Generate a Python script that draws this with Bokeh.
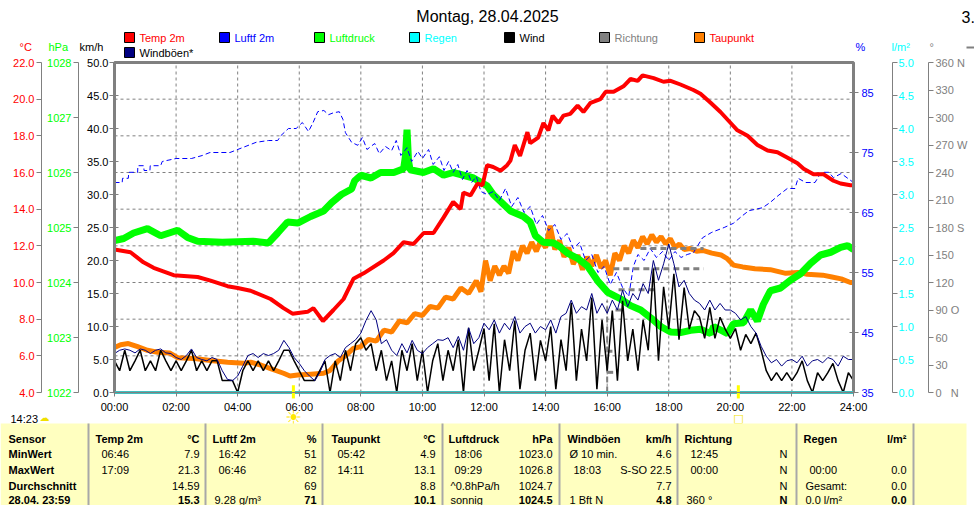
from bokeh.plotting import figure
from bokeh.models import Range1d, LinearAxis, FixedTicker, NumeralTickFormatter
from bokeh.embed import file_html
from bokeh.resources import INLINE
from bokeh.core.properties import value

FONT = "Liberation Sans"
GRAY = "#808080"

# ---------------- data ----------------
title_text = "Montag, 28.04.2025"
hour_ticks = [0, 2, 4, 6, 8, 10, 12, 14, 16, 18, 20, 22, 24]
hour_labels = ["00:00", "02:00", "04:00", "06:00", "08:00", "10:00", "12:00",
               "14:00", "16:00", "18:00", "20:00", "22:00", "24:00"]
kmh_ticks = [0, 5, 10, 15, 20, 25, 30, 35, 40, 45, 50]
hpa_ticks = [1022, 1023, 1024, 1025, 1026, 1027, 1028]
temp_ticks = [4, 6, 8, 10, 12, 14, 16, 18, 20, 22]
hum_ticks = [35, 45, 55, 65, 75, 85]
rain_ticks = [0, 0.5, 1, 1.5, 2, 2.5, 3, 3.5, 4, 4.5, 5]
dir_ticks = [0, 30, 60, 90, 120, 150, 180, 210, 240, 270, 300, 330, 360]
dir_tick_labels = {0: "0\u00a0\u00a0\u00a0N", 90: "90 O", 180: "180 S", 270: "270 W", 360: "360 N"}

temp_readings = [
    (0.0, 11.8), (0.52, 11.65), (0.94, 11.1), (1.27, 10.8), (1.92, 10.4), (2.7, 10.3),
    (3.12, 10.1), (3.67, 9.8), (4.0, 9.7), (4.42, 9.55), (5.07, 9.1), (5.49, 8.6),
    (5.78, 8.3), (6.27, 8.4), (6.46, 8.6), (6.77, 7.9), (7.11, 8.5), (7.44, 9.1),
    (7.76, 10.2), (8.09, 10.5), (8.74, 11.2), (9.06, 11.6), (9.39, 12.2), (9.71, 12.1),
    (10.04, 12.7), (10.36, 12.7), (10.69, 13.55), (11.0, 14.4), (11.24, 14.0), (11.33, 14.9),
    (11.56, 14.75), (11.79, 15.4), (11.95, 15.3), (12.1, 16.4), (12.3, 16.3), (12.54, 16.1),
    (12.75, 16.4), (12.86, 16.65), (13.0, 17.5), (13.17, 16.9), (13.41, 18.2), (13.5, 17.6),
    (13.76, 17.9), (13.93, 18.7), (14.09, 18.3), (14.23, 19.1), (14.42, 18.7), (14.58, 19.1),
    (14.8, 19.2), (15.04, 19.65), (15.23, 19.3), (15.46, 19.8), (15.78, 20.0), (15.95, 20.4),
    (16.21, 20.4), (16.53, 20.7), (16.76, 21.1), (16.99, 21.0), (17.15, 21.3), (17.51, 21.15),
    (17.83, 20.95), (18.06, 21.0), (18.38, 20.8), (18.8, 20.5), (19.03, 20.3), (19.36, 19.8),
    (19.68, 19.3), (20.01, 18.7), (20.23, 18.3), (20.56, 18.0), (20.88, 17.5), (21.21, 17.2),
    (21.53, 17.1), (21.86, 16.8), (22.18, 16.5), (22.38, 16.2), (22.7, 15.9), (23.03, 15.9),
    (23.35, 15.55), (23.58, 15.4), (23.9, 15.3), (24.0, 15.3)]

dew_readings = [
    (0.0, 6.45), (0.2, 6.6), (0.45, 6.67), (0.75, 6.5), (1.07, 6.3), (1.4, 6.2), (1.8, 6.15),
    (2.05, 5.9), (2.6, 5.85), (3.12, 5.75), (3.67, 5.65), (4.2, 5.6), (4.42, 5.65), (4.75, 5.5),
    (5.07, 5.3), (5.49, 5.05), (5.7, 4.9), (5.95, 4.95), (6.37, 5.0), (6.79, 5.05), (7.0, 5.2),
    (7.25, 5.7), (7.5, 6.0), (7.75, 6.4), (8.0, 6.5), (8.25, 6.9), (8.5, 6.8), (8.75, 7.4),
    (9.0, 7.3), (9.25, 7.9), (9.5, 7.8), (9.75, 8.3), (10.0, 8.2), (10.25, 8.7), (10.5, 8.6),
    (10.75, 9.2), (11.0, 9.1), (11.25, 9.7), (11.5, 9.4), (11.75, 10.1), (11.9, 9.5),
    (12.05, 11.2), (12.2, 10.1), (12.35, 10.9), (12.5, 10.4), (12.65, 10.9), (12.8, 10.5),
    (12.95, 11.7), (13.1, 11.2), (13.25, 12.0), (13.4, 11.6), (13.55, 12.2), (13.7, 11.7),
    (13.85, 12.3), (14.0, 11.9), (14.15, 13.1), (14.3, 11.8), (14.45, 12.3), (14.6, 11.4),
    (14.75, 11.9), (14.9, 11.0), (15.05, 11.5), (15.2, 10.7), (15.35, 11.4), (15.5, 10.9),
    (15.65, 11.5), (15.8, 10.8), (15.95, 11.2), (16.1, 10.4), (16.25, 11.6), (16.4, 11.2),
    (16.55, 12.0), (16.7, 11.6), (16.85, 12.3), (17.0, 11.9), (17.15, 12.5), (17.3, 12.1),
    (17.45, 12.6), (17.6, 12.2), (17.75, 12.5), (17.9, 12.1), (18.05, 12.4), (18.2, 11.9),
    (18.35, 12.1), (18.5, 11.8), (18.7, 11.85), (18.9, 11.7), (19.1, 11.75), (19.4, 11.6),
    (19.7, 11.5), (19.9, 11.3), (20.1, 10.95), (20.4, 10.85), (20.8, 10.75), (21.3, 10.7),
    (21.8, 10.5), (22.2, 10.55), (22.5, 10.45), (23.0, 10.4), (23.3, 10.3), (23.6, 10.2),
    (23.9, 10.0), (24.0, 10.0)]

press_readings = [
    (0.0, 1024.76), (0.3, 1024.8), (0.62, 1024.9), (1.07, 1024.98), (1.5, 1024.85),
    (2.05, 1024.95), (2.37, 1024.82), (2.7, 1024.75), (3.5, 1024.73), (4.5, 1024.75),
    (5.0, 1024.72), (5.3, 1024.9), (5.62, 1025.1), (5.95, 1025.08), (6.37, 1025.2),
    (6.79, 1025.3), (7.05, 1025.45), (7.37, 1025.6), (7.7, 1025.7), (7.8, 1025.85),
    (8.0, 1025.95), (8.33, 1025.9), (8.64, 1026.0), (9.07, 1026.0), (9.39, 1026.07),
    (9.45, 1026.3), (9.5, 1026.78), (9.55, 1026.2), (9.6, 1026.05), (10.03, 1026.0),
    (10.36, 1026.07), (10.69, 1025.95), (11.0, 1026.0), (11.33, 1025.95), (11.66, 1025.9),
    (12.1, 1025.76), (12.3, 1025.6), (12.86, 1025.3), (13.28, 1025.2), (13.5, 1025.1),
    (13.67, 1024.85), (13.93, 1024.73), (14.26, 1024.72), (14.49, 1024.64), (14.72, 1024.53),
    (15.04, 1024.44), (15.36, 1024.3), (15.69, 1024.03), (16.02, 1023.82), (16.44, 1023.7),
    (16.76, 1023.58), (17.09, 1023.5), (17.41, 1023.36), (17.74, 1023.2), (18.06, 1023.1),
    (18.38, 1023.09), (18.71, 1023.13), (19.03, 1023.15), (19.36, 1023.07), (19.46, 1023.2),
    (19.91, 1023.07), (20.1, 1023.25), (20.43, 1023.27), (20.66, 1023.5), (20.88, 1023.3),
    (21.07, 1023.6), (21.3, 1023.85), (21.63, 1023.9), (21.95, 1024.04), (22.28, 1024.16),
    (22.61, 1024.35), (22.93, 1024.5), (23.26, 1024.55), (23.58, 1024.64), (23.81, 1024.67),
    (24.0, 1024.6)]

hum_readings = [
    (0.0, 70.0), (0.25, 70.0), (0.26, 70.7), (0.45, 70.7), (0.46, 71.7), (0.75, 71.7),
    (0.76, 72.8), (0.95, 72.8), (0.96, 72.0), (1.15, 72.0), (1.16, 72.8), (1.5, 72.8),
    (1.55, 73.5), (2.0, 74.0), (2.5, 74.0), (2.85, 74.5), (3.1, 75.0), (3.75, 75.0),
    (4.15, 75.8), (4.6, 76.7), (5.0, 77.0), (5.3, 77.0), (5.4, 77.8), (5.65, 79.0),
    (5.9, 79.0), (6.1, 80.0), (6.3, 78.5), (6.45, 80.0), (6.6, 81.8), (6.8, 82.0),
    (6.95, 81.3), (7.1, 81.6), (7.3, 81.8), (7.42, 80.5), (7.5, 78.3), (7.7, 76.7),
    (7.9, 76.2), (8.05, 77.5), (8.2, 75.5), (8.45, 76.5), (8.6, 74.8), (8.8, 76.0),
    (9.0, 75.3), (9.15, 77.0), (9.3, 74.5), (9.5, 75.8), (9.65, 73.5), (9.85, 75.2),
    (10.0, 74.0), (10.2, 75.5), (10.35, 73.0), (10.55, 74.3), (10.7, 72.0), (10.85, 73.5),
    (11.0, 71.7), (11.15, 73.0), (11.3, 70.5), (11.45, 72.0), (11.6, 70.0), (11.75, 71.0),
    (11.9, 68.5), (12.1, 68.0), (12.3, 68.5), (12.5, 67.0), (12.7, 69.0), (12.9, 66.0),
    (13.1, 67.5), (13.3, 65.0), (13.5, 66.0), (13.7, 63.0), (13.9, 64.5), (14.1, 62.0),
    (14.3, 63.0), (14.5, 60.5), (14.7, 61.5), (14.9, 59.0), (15.1, 60.0), (15.3, 57.0),
    (15.5, 58.0), (15.7, 55.0), (15.9, 56.0), (16.1, 53.0), (16.3, 55.0), (16.5, 52.5),
    (16.7, 51.0), (16.85, 56.0), (17.0, 58.0), (17.2, 57.0), (17.4, 59.0), (17.6, 57.5),
    (17.8, 58.5), (18.0, 57.0), (18.2, 58.5), (18.4, 57.5), (18.6, 58.0), (18.8, 58.3),
    (19.1, 60.8), (19.4, 61.7), (19.8, 62.5), (20.1, 63.2), (20.4, 64.5), (20.6, 65.3),
    (21.05, 65.8), (21.3, 66.7), (21.55, 67.8), (21.85, 69.0), (22.1, 69.0), (22.2, 70.7),
    (22.45, 70.0), (22.75, 70.0), (22.95, 71.7), (23.2, 71.7), (23.35, 70.8), (23.6, 71.5),
    (24.0, 70.0)]

# wind and gusts, one value every 10 minutes (rows = hours)
wind_kmh = [
    4.8, 3.3, 6.4, 3.3, 4.8, 6.4,
    3.3, 4.8, 3.3, 6.4, 4.8, 3.3,
    4.8, 3.3, 4.8, 6.4, 3.3, 4.8,
    3.3, 4.8, 4.8, 1.8, 1.8, 1.8,
    0.0, 3.3, 4.8, 3.3, 4.8, 3.3,
    4.8, 3.3, 4.8, 6.4, 6.4, 4.8,
    3.3, 1.8, 1.8, 1.8, 3.3, 4.8,
    0.0, 4.8, 1.8, 6.4, 3.3, 7.4,
    8.3, 6.4, 7.4, 3.3, 6.4, 1.8,
    4.8, 0.0, 6.4, 3.3, 7.4, 1.8,
    6.4, 0.0, 4.8, 7.4, 1.8, 6.4,
    3.3, 8.0, 0.0, 9.8, 3.3, 6.4,
    9.7, 1.8, 10.4, 0.0, 8.0, 3.3,
    10.9, 0.5, 6.4, 9.0, 1.8, 7.9,
    4.8, 10.0, 0.5, 8.0, 3.3, 13.6,
    1.8, 9.6, 4.8, 14.4, 0.5, 11.0,
    3.3, 12.4, 1.8, 13.9, 4.8, 9.6,
    3.3, 11.0, 6.4, 18.8, 4.8, 16.0,
    9.6, 18.0, 8.0, 15.9, 9.6, 12.4,
    11.4, 8.2, 12.9, 8.2, 11.4, 9.6,
    8.2, 9.7, 6.4, 8.8, 7.4, 9.0,
    6.4, 3.3, 1.8, 3.0, 1.8, 3.0,
    1.8, 3.0, 4.8, 1.8, 0.0, 3.0,
    1.8, 3.0, 4.4, 1.8, 0.0, 3.0,
    1.8]
gust_kmh = [
    5.9, 6.4, 6.6, 6.4, 6.0, 6.6,
    6.4, 5.9, 6.4, 6.6, 6.0, 5.9,
    5.3, 5.0, 5.6, 6.6, 5.3, 5.0,
    4.8, 5.3, 5.0, 3.3, 2.0, 1.8,
    2.5, 4.0, 5.6, 5.9, 5.3, 5.9,
    5.6, 5.9, 6.4, 7.9, 6.8, 5.3,
    4.4, 3.3, 2.5, 1.8, 3.0, 5.0,
    5.6, 5.9, 5.3, 6.8, 7.4, 8.0,
    9.0, 10.9, 12.4, 11.0, 7.4, 8.0,
    6.4, 5.6, 7.4, 6.0, 7.9, 6.4,
    5.9, 6.8, 7.4, 8.0, 7.9, 8.3,
    6.8, 8.5, 6.4, 9.8, 7.4, 8.3,
    10.5, 9.5, 11.0, 9.0, 10.5, 9.5,
    11.5, 9.0, 10.0, 10.5, 9.0, 10.0,
    9.5, 11.0, 9.0, 11.5, 12.0, 14.0,
    12.0, 13.0, 12.5, 15.0, 12.0, 13.5,
    12.0, 14.0, 12.5, 15.5, 13.0, 15.0,
    14.0, 16.5, 15.0, 20.0, 17.0, 19.5,
    22.5, 19.5, 16.0, 17.0, 15.0, 14.0,
    13.5, 12.5, 14.0, 12.5, 13.5, 12.5,
    12.5, 12.0, 11.0, 11.5, 10.0, 9.0,
    7.0, 5.5, 4.5, 5.0, 4.0, 4.8,
    5.0, 4.5, 5.5, 4.0, 4.8, 5.0,
    4.5, 5.3, 5.0, 4.0, 5.5, 5.0,
    5.0]
wind_hours = [i / 6 for i in range(len(wind_kmh))]

rain_hours = [0, 24]
rain_lm2 = [0.0, 0.0]

dir_from_h = [16.00, 16.04, 16.27, 16.37, 16.20, 17.08]
dir_to_h = [16.20, 16.17, 16.53, 17.57, 19.13, 19.13]
dir_deg = [22, 45, 90, 112, 135, 157]
dir_jump_h = [16.0]
dir_jump_lo = [0]
dir_jump_hi = [100]

sun_event_h = [5.81, 20.26]
clock_text = "14:23"

legend_labels = ["Temp 2m", "Luftf 2m", "Luftdruck", "Regen", "Wind", "Richtung", "Taupunkt", "Windböen*"]
legend_box_colors = ["#FF0000", "#0000FF", "#00FF00", "#00FFFF", "#000000", "#808080", "#FF8000", "#000080"]
legend_text_colors = ["#FF0000", "#0000FF", "#00FF00", "#00FFFF", "#000000", "#808080", "#FF0000", "#000000"]

unit_texts = ["°C", "hPa", "km/h", "%", "l/m²", "°"]
unit_colors = ["#FF0000", "#00FF00", "#000000", "#0000FF", "#00FFFF", "#808080"]

row_names = ["Sensor", "MinWert", "MaxWert", "Durchschnitt", "28.04. 23:59"]
col_titles = ["Temp 2m", "Luftf 2m", "Taupunkt", "Luftdruck", "Windböen", "Richtung", "Regen"]
col_units = ["°C", "%", "°C", "hPa", "km/h", "", "l/m²"]
col_left = [["06:46", "17:09", "", ""],
            ["16:42", "06:46", "", "9.28 g/m³"],
            ["05:42", "14:11", "", ""],
            ["18:06", "09:29", "^0.8hPa/h", "sonnig"],
            ["Ø 10 min.", "18:03", "", "1 Bft N"],
            ["12:45", "00:00", "", "360 °"],
            ["", "00:00", "Gesamt:", "0.0 l/m²"]]
col_right = [["7.9", "21.3", "14.59", "15.3"],
             ["51", "82", "69", "71"],
             ["4.9", "13.1", "8.8", "10.1"],
             ["1023.0", "1026.8", "1024.7", "1024.5"],
             ["4.6", "S-SO 22.5", "7.7", "4.8"],
             ["N", "N", "N", "N"],
             ["", "0.0", "0.0", "0.0"]]

temp_h, temp_c = zip(*temp_readings)
dew_h, dew_c = zip(*dew_readings)
press_h, press_hpa = zip(*press_readings)
hum_h, hum_pct = zip(*hum_readings)

# ---------------- page geometry ----------------
W, H = 974, 505
PL, PR, PT, PB = 114, 853, 62, 392      # plot box in page pixels


def x_span(lo, hi):
    k = (PR - PL) / (hi - lo)
    return Range1d(lo - PL / k, hi + (W - PR) / k)


def y_span(lo, hi):
    k = (PB - PT) / (hi - lo)
    return Range1d(lo - (H - PB) / k, hi + PT / k)


def x_at(px):   # page pixel -> hour
    return (px - PL) * 24 / (PR - PL)


p = figure(width=W, height=H, x_range=x_span(0, 24), y_range=y_span(0, 50),
           x_axis_type=None, y_axis_type=None, output_backend="svg", toolbar_location=None,
           min_border=0, min_border_left=0, min_border_right=0, min_border_top=0, min_border_bottom=0,
           outline_line_color=None)
p.extra_y_ranges = {"temp": y_span(4, 22), "hpa": y_span(1022, 1028), "hum": y_span(35, 90),
                    "rain": y_span(0, 5), "dir": y_span(0, 360), "py": Range1d(H, 0)}
p.extra_x_ranges = {"px": Range1d(0, W)}


def add_axis(side, rng, loc_px, ticks, color, bounds, fmt=None, overrides=None, standoff=2, tick_in=0,
             tick_out=5):
    if side == "below":
        ax = LinearAxis(fixed_location=0)
    else:
        ax = LinearAxis(y_range_name=rng, fixed_location=x_at(loc_px))
    ax.bounds = bounds
    ax.ticker = FixedTicker(ticks=ticks)
    if fmt:
        ax.formatter = NumeralTickFormatter(format=fmt)
    if overrides:
        ax.major_label_overrides = overrides
    ax.major_label_text_color = color
    ax.major_label_text_font = FONT
    ax.major_label_text_font_size = "11px"
    ax.major_label_standoff = standoff
    ax.major_tick_out = tick_out
    ax.major_tick_in = tick_in
    ax.minor_tick_line_color = None
    ax.major_tick_line_color = GRAY
    ax.axis_line_color = GRAY
    p.add_layout(ax, side)
    return ax


# ---------------- grid, series, frame ----------------
inner_hours = hour_ticks[1:-1]
p.segment(x0=inner_hours, y0=[0] * len(inner_hours), x1=inner_hours, y1=[50] * len(inner_hours),
          line_color=GRAY, line_dash="3 3", line_width=1)
inner_temps = temp_ticks[1:-1]
p.segment(x0=[0] * len(inner_temps), y0=inner_temps, x1=[24] * len(inner_temps), y1=inner_temps,
          y_range_name="temp", line_color=GRAY, line_dash="3 3", line_width=1)

p.line(list(dew_h), list(dew_c), y_range_name="temp", line_color="#FF8000", line_width=5)
p.line(list(press_h), list(press_hpa), y_range_name="hpa", line_color="#00FF00", line_width=7)
p.line(list(hum_h), list(hum_pct), y_range_name="hum", line_color="#0000FF", line_width=1, line_dash="5 3")
p.line(list(temp_h), list(temp_c), y_range_name="temp", line_color="#FF0000", line_width=4)
p.segment(x0=dir_from_h, y0=dir_deg, x1=dir_to_h, y1=dir_deg, y_range_name="dir",
          line_color=GRAY, line_width=3, line_dash="6 4")
p.segment(x0=dir_jump_h, y0=dir_jump_lo, x1=dir_jump_h, y1=dir_jump_hi, y_range_name="dir",
          line_color=GRAY, line_width=2, line_dash="6 4")
p.line(wind_hours, wind_kmh, line_color="black", line_width=1.5)
p.line(wind_hours, gust_kmh, line_color="#000080", line_width=1)
p.quad(left=[0], right=[24], bottom=[0], top=[50], fill_color=None, line_color=GRAY, line_width=3)
p.line(rain_hours, rain_lm2, y_range_name="rain", line_color="#00FFFF", line_width=2)
p.segment(x0=sun_event_h, y0=[-0.9, -0.9], x1=sun_event_h, y1=[1.1, 1.1], line_color="#FFFF00", line_width=3)

# ---------------- axes ----------------
add_axis("below", None, None, hour_ticks, "black", (0, 24),
         overrides={h: s for h, s in zip(hour_ticks, hour_labels)}, standoff=4, tick_out=4)
add_axis("left", "default", PL, kmh_ticks, "black", (0, 50), fmt="0.0", standoff=1, tick_in=4)
add_axis("left", "hpa", 78, hpa_ticks, "#00FF00", (1022, 1028), standoff=2)
add_axis("left", "temp", 41, temp_ticks, "#FF0000", (4, 22), fmt="0.0", standoff=2)
add_axis("right", "hum", PR, hum_ticks, "#0000FF", (35, 90), standoff=3, tick_in=4)
add_axis("right", "rain", 892, rain_ticks, "#00FFFF", (0, 5), fmt="0.0", standoff=1)
add_axis("right", "dir", 928, dir_ticks, GRAY, (0, 360), overrides=dir_tick_labels, standoff=2)


# ---------------- header, markers, table (page-pixel layout) ----------------
def texts(xs, ys, ts, color="black", size="11px", align="left", style="normal", font=FONT, xr="px"):
    p.text(x=xs, y=ys, text=ts, x_range_name=xr, y_range_name="py", text_color=color,
           text_font=value(font), text_font_size=size, text_align=align, text_baseline="middle",
           text_font_style=style)


texts([487], [16], [title_text], size="16px", align="center")
texts([961], [16], ["3."], size="16px")
lx = [124 + 95 * (i % 7) for i in range(len(legend_labels))]
ly = [37 + 15 * (i // 7) for i in range(len(legend_labels))]
p.rect(x=[v + 5 for v in lx], y=ly, width=10, height=10, x_range_name="px", y_range_name="py",
       fill_color=legend_box_colors, line_color="black", line_width=1)
texts([v + 15 for v in lx], ly, legend_labels, color=legend_text_colors)
texts([19, 48, 79, 855, 891, 929], [46] * 6, unit_texts, color=unit_colors)
p.segment(x0=[966], y0=[47], x1=[974], y1=[47], x_range_name="px", y_range_name="py",
          line_color=GRAY, line_width=2)

texts([10], [418], [clock_text])
texts([44], [417], ["☁"], color="#F0E000", size="10px", align="center", font="DejaVu Sans")
texts([sun_event_h[0]], [416], ["☀"], color="#FFE800", size="19px", align="center",
      font="DejaVu Sans", xr="default")
texts([sun_event_h[1]], [418], ["□"], color="#F0E000", size="11px", align="center",
      font="DejaVu Sans", xr="default")

# table
p.quad(left=[0], right=[966], top=[423], bottom=[H], x_range_name="px", y_range_name="py",
       fill_color="#FFFFC0", line_color=None)
sep_x = [88, 205, 322, 442, 559, 677, 796, 913]
p.segment(x0=sep_x, y0=[423] * 8, x1=sep_x, y1=[H] * 8, x_range_name="px", y_range_name="py",
          line_color="#A8A8A8", line_width=2)
row_y = [438, 453.5, 469.5, 485.5, 499]
hdr_x = [95, 212, 331, 448, 567, 684, 803]
right_x = [199, 316, 435, 552, 671, 787, 906]

groups = {}


def put(x, y, t, align, style):
    if t:
        g = groups.setdefault((align, style), ([], [], []))
        g[0].append(x)
        g[1].append(y)
        g[2].append(t)


for r, name in enumerate(row_names):
    put(8, row_y[r], name, "left", "bold")
for c in range(len(col_titles)):
    put(hdr_x[c], row_y[0], col_titles[c], "left", "bold")
    put(right_x[c], row_y[0], col_units[c], "right", "bold")
    for r in range(4):
        s = col_left[c][r]
        is_time = len(s) == 5 and s[2] == ":"
        put(hdr_x[c] + (6 if is_time else 2), row_y[r + 1], s, "left", "normal")
        put(right_x[c], row_y[r + 1], col_right[c][r], "right", "bold" if r == 3 else "normal")

for (align, style), (xs, ys, ts) in groups.items():
    texts(xs, ys, ts, align=align, style=style)

open("out.html", "w").write(file_html(p, INLINE))
